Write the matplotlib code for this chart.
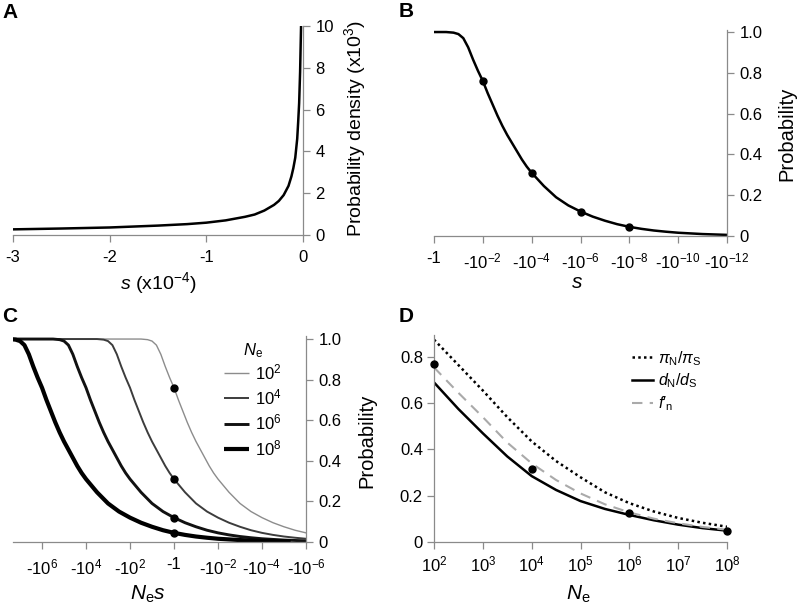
import matplotlib
matplotlib.use("Agg")
import matplotlib.pyplot as plt
from matplotlib.ticker import NullLocator

plt.rcParams['font.family'] = ['Liberation Sans', 'DejaVu Sans']
plt.rcParams['mathtext.fontset'] = 'custom'
plt.rcParams['mathtext.rm'] = 'Liberation Sans'
plt.rcParams['mathtext.it'] = 'Liberation Sans:italic'
plt.rcParams['mathtext.bf'] = 'Liberation Sans:bold'

# ---------------- data ----------------
# Panel A: probability density of s (s in units of 1e-4, density in units of 1e3)
a_s = [-3, -2.5, -2, -1.5, -1.2, -1, -0.8, -0.6, -0.5, -0.4, -0.3, -0.25, -0.2,
       -0.15, -0.12, -0.1, -0.08, -0.06, -0.05, -0.04, -0.03, -0.025, -0.02]
a_density = [0.27, 0.31, 0.36, 0.45, 0.52, 0.59, 0.70, 0.87, 0.98, 1.17, 1.44, 1.63, 1.91,
             2.35, 2.8, 3.2, 3.7, 4.6, 5.4, 6.3, 7.8, 8.9, 10.0]

# Panel B: probability vs log10|s|
b_logs = [6, 0, -0.5, -0.8, -1.0, -1.2, -1.4, -1.6, -1.8, -2.0, -2.2, -2.4, -2.6, -2.8,
          -3.0, -3.2, -3.4, -3.6, -3.8, -4.0, -4.5, -5.0, -5.5, -6.0, -6.5, -7.0, -7.5,
          -8.0, -8.5, -9.0, -9.5, -10.0, -11.0, -12.0, -13.3]
b_prob = [1.0, 1.0, 1.0, 0.997, 0.99, 0.97, 0.925, 0.865, 0.81, 0.76, 0.70, 0.645, 0.59, 0.54,
          0.495, 0.455, 0.415, 0.375, 0.34, 0.31, 0.245, 0.19, 0.15, 0.12, 0.095, 0.075, 0.058,
          0.045, 0.035, 0.027, 0.021, 0.016, 0.0095, 0.0055, 0.002]
b_dot_logs = [-2, -4, -6, -8]
b_dot_prob = [0.76, 0.31, 0.12, 0.045]

# Panel C: effective population sizes (log10 Ne)
c_logNe = [2, 4, 6, 8]
c_labels = ['10$^2$', '10$^4$', '10$^6$', '10$^8$']
c_dot_logNes = [0, 0, 0, 0]

# Panel D: ratios vs Ne
d_logNe = [2, 2.5, 3, 3.5, 4, 4.5, 5, 5.5, 6, 6.5, 7, 7.5, 8]
d_piN_piS = [0.875, 0.765, 0.655, 0.54, 0.435, 0.35, 0.28, 0.215, 0.168, 0.132, 0.104, 0.083, 0.066]
d_dN_dS = [0.69, 0.575, 0.47, 0.37, 0.285, 0.225, 0.177, 0.143, 0.117, 0.094, 0.075, 0.06, 0.049]
d_fn = [0.755, 0.645, 0.54, 0.43, 0.34, 0.268, 0.21, 0.163, 0.128, 0.101, 0.081, 0.065, 0.053]
d_dot_logNe = [2, 4, 6, 8]
d_dot_val = [0.77, 0.314, 0.124, 0.049]
d_labels = ['$\\pi_\\mathrm{N}/\\pi_\\mathrm{S}$', '$d_\\mathrm{N}/d_\\mathrm{S}$',
            "$f$\u2032$_\\mathrm{n}$"]

# ---------------- figure ----------------
W, H = 797, 615
fig = plt.figure(figsize=(W / 100, H / 100), dpi=100)

def px_axes(l, r, t, b):
    return fig.add_axes([l / W, 1 - b / H, (r - l) / W, (b - t) / H])

SPC = '#8a8a8a'
TFS = 12
LFS = 14

def style(ax, side='right', xpad=6):
    for s in ['top', 'left', 'right', 'bottom']:
        ax.spines[s].set_visible(False)
    ax.spines['bottom'].set_visible(True)
    ax.spines[side].set_visible(True)
    for s in ['bottom', side]:
        ax.spines[s].set_color(SPC)
        ax.spines[s].set_linewidth(0.9)
    ax.tick_params(axis='both', direction='out', length=5, width=0.9, color=SPC,
                   labelsize=TFS, labelcolor='black')
    ax.tick_params(axis='x', pad=xpad)
    if side == 'right':
        ax.yaxis.tick_right()
        ax.tick_params(axis='y', pad=4)
    else:
        ax.yaxis.tick_left()
        ax.tick_params(axis='y', pad=3)
    ax.patch.set_alpha(0)

def exp_label(e, zero='-1'):
    if e == 0:
        return zero
    return '-10$^{%d}$' % e

# Panel A
axA = px_axes(13, 303, 26, 235)
style(axA)
axA.plot(a_s, a_density, color='black', lw=1.8)
axA.set_xlim(-3, 0)
axA.set_ylim(0, 10)
axA.set_xticks([-3, -2, -1, 0])
axA.set_xticklabels(['-3', '-2', '-1', '0'])
axA.set_yticks([0, 2, 4, 6, 8, 10])

# Panel B
axB = px_axes(434, 727, 30, 236)
style(axB)
axB.plot(b_logs, b_prob, color='black', lw=1.8)
axB.plot(b_dot_logs, b_dot_prob, 'o', color='black', ms=5)
axB.set_xlim(0, -12)
axB.set_ylim(0, 1.01)
bt = [0, -2, -4, -6, -8, -10, -12]
axB.set_xticks(bt)
axB.set_xticklabels([exp_label(e) for e in bt])
axB.set_yticks([0, 0.2, 0.4, 0.6, 0.8, 1.0])
axB.set_yticklabels(['0', '0.2', '0.4', '0.6', '0.8', '1.0'])

# Panel C
axC = px_axes(13, 306, 336, 542)
style(axC)
c_colors = ['#8c8c8c', '#3c3c3c', '#111111', '#000000']
c_widths = [1.0, 1.4, 2.1, 3.0]
for lg, col, w, lab in zip(c_logNe, c_colors, c_widths, c_labels):
    xs = [v + lg for v in b_logs]
    axC.plot(xs, b_prob, color=col, lw=w, label=lab, solid_capstyle='butt')
axC.plot(c_dot_logNes, b_dot_prob, 'o', color='black', ms=5, zorder=5)
axC.set_xlim(7.32, -6)
axC.set_ylim(0, 1.015)
ct = [6, 4, 2, 0, -2, -4, -6]
axC.set_xticks(ct)
axC.set_xticklabels([exp_label(e) for e in ct])
axC.set_yticks([0, 0.2, 0.4, 0.6, 0.8, 1.0])
axC.set_yticklabels(['0', '0.2', '0.4', '0.6', '0.8', '1.0'])
axC.legend(loc='upper left', bbox_to_anchor=((224 - 13) / 293, (542 - 362) / 206),
           frameon=False, fontsize=TFS, handlelength=1.5, handletextpad=0.35,
           labelspacing=0.33, borderaxespad=0, borderpad=0)

# Panel D
axD = px_axes(434, 727, 335, 542)
style(axD, side='left', xpad=4)
axD.plot([10 ** v for v in d_logNe], d_piN_piS, color='black', lw=1.8, ls=(0, (1, 1.3)),
         label=d_labels[0])
axD.plot([10 ** v for v in d_logNe], d_dN_dS, color='black', lw=1.8, label=d_labels[1])
axD.plot([10 ** v for v in d_logNe], d_fn, color='#aaaaaa', lw=1.5, ls=(0, (5, 3.5)),
         label=d_labels[2])
axD.plot([10 ** v for v in d_dot_logNe], d_dot_val, 'o', color='black', ms=5, zorder=5,
         clip_on=False)
axD.set_xscale('log')
axD.set_xlim(1e2, 1e8)
axD.set_ylim(0, 0.895)
axD.xaxis.set_minor_locator(NullLocator())
axD.set_xticks([10 ** k for k in range(2, 9)])
axD.set_xticklabels(['10$^{%d}$' % k for k in range(2, 9)])
axD.set_yticks([0, 0.2, 0.4, 0.6, 0.8])
axD.set_yticklabels(['0', '0.2', '0.4', '0.6', '0.8'])
axD.legend(loc='upper left', bbox_to_anchor=((632 - 434) / 293, (542 - 349) / 207),
           frameon=False, fontsize=TFS - 0.5, handlelength=1.3, handletextpad=0.35,
           labelspacing=0.25, borderaxespad=0, borderpad=0)

# Axis labels
def ftext(x, y, s, **kw):
    return fig.text(x / W, 1 - y / H, s, ha='center', va='center', **kw)

ftext(355, 128, 'Probability density (x10$^3$)', rotation=90, fontsize=LFS)
ftext(787, 134, 'Probability', rotation=90, fontsize=LFS + 0.5)
ftext(367, 441, 'Probability', rotation=90, fontsize=LFS + 0.5)
ftext(158, 283, '$s$ (x10$^{-4}$)', fontsize=LFS)
ftext(577, 282, '$s$', fontsize=LFS + 1)
ftext(148, 594, '$N_\\mathrm{e}s$', fontsize=LFS + 1)
ftext(578, 594, '$N_\\mathrm{e}$', fontsize=LFS + 1)
ftext(253, 351, '$N_\\mathrm{e}$', fontsize=TFS)

# Panel letters
for x, y, s in [(2, 3, 'A'), (399, 2, 'B'), (2, 307, 'C'), (399, 307, 'D')]:
    fig.text(x / W, 1 - y / H, s, ha='left', va='top', fontsize=15, fontweight='bold')

fig.savefig('out.png', dpi=100)
